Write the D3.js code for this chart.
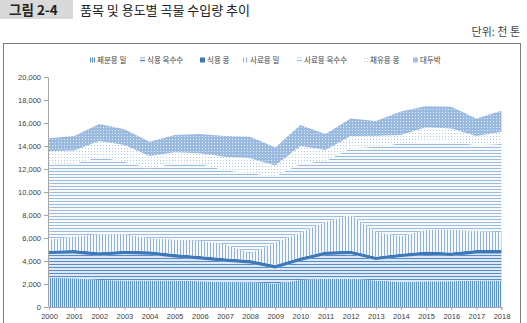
<!DOCTYPE html>
<html>
<head>
<meta charset="utf-8">
<script src="https://cdn.jsdelivr.net/npm/d3@7"></script>
<style>
  body { margin: 0; background: #fff; }
  svg { display: block; font-family: "Noto Sans CJK KR", "Noto Sans", sans-serif; }
</style>
</head>
<body>
<svg></svg>
<script>
// Data (thousand tons)
var years = ["2000","2001","2002","2003","2004","2005","2006","2007","2008","2009",
             "2010","2011","2012","2013","2014","2015","2016","2017","2018"];
var seriesNames = ["제분용 밀", "식용 옥수수", "식용 콩", "사료용 밀", "사료용 옥수수", "채유용 콩", "대두박"];
var millingWheat = [2550,2500,2350,2300,2300,2300,2250,2200,2150,2050,2350,2450,2450,2300,2200,2250,2250,2300,2300];
var foodCorn     = [2050,2160,2110,2300,2250,2010,1890,1740,1640,1300,1650,2070,2150,1780,2140,2270,2180,2360,2360];
var foodSoy      = [300,300,300,300,300,300,300,300,300,300,300,300,300,300,300,300,300,300,300];
var feedWheat    = [980,1160,1560,1420,1120,1270,1330,1210,580,1950,2200,2600,3100,2170,1510,1880,2020,1640,1540];
var feedCorn     = [6520,6330,6750,6320,6090,6620,6680,6450,6950,5770,5950,5280,5800,7390,8080,7680,7570,7490,7670];
var crushSoy     = [1160,1150,1360,1450,1070,950,910,1170,1310,930,1550,950,1070,960,730,1240,1210,780,1080];
var soyMeal      = [1110,1270,1480,1360,1250,1510,1680,1800,1880,1580,1830,1390,1530,1270,2030,1860,1890,1530,1820];
var yTicks = [0,2000,4000,6000,8000,10000,12000,14000,16000,18000,20000];

var seriesValues = [millingWheat, foodCorn, foodSoy, feedWheat, feedCorn, crushSoy, soyMeal];

// Table for d3.stack
var table = years.map(function(y, i) {
    var row = {year: y};
    seriesNames.forEach(function(n, k) { row[n] = seriesValues[k][i]; });
    return row;
});

var W = 527, H = 323;
var svg = d3.select("svg").attr("width", W).attr("height", H);

// Fill patterns for each series
var defs = svg.append("defs");
function stripes(id, dir, size, bg, fg) {
    var p = defs.append("pattern").attr("id", id)
        .attr("patternUnits", "userSpaceOnUse")
        .attr("width", dir === "v" ? size : 4)
        .attr("height", dir === "h" ? size : 4);
    p.append("rect").attr("width", 4).attr("height", 4).attr("fill", bg);
    if (dir === "v") p.append("rect").attr("width", 1).attr("height", 4).attr("fill", fg);
    else p.append("rect").attr("width", 4).attr("height", 1).attr("fill", fg);
}
function dots(id, bg, fg) {
    var p = defs.append("pattern").attr("id", id)
        .attr("patternUnits", "userSpaceOnUse")
        .attr("width", 3).attr("height", 3);
    p.append("rect").attr("width", 3).attr("height", 3).attr("fill", bg);
    p.append("rect").attr("x", 1).attr("y", 1).attr("width", 1).attr("height", 1).attr("fill", fg);
}
stripes("p0", "v", 2, "#dfeaf6", "#5f93cc");
stripes("p1", "h", 3, "#dce8f5", "#5a8dc7");
stripes("p3", "v", 3, "#f7fafd", "#8fb2da");
stripes("p4", "h", 3, "#f7fafd", "#9dbce0");
dots("p5", "#ffffff", "#b3c9e4");
dots("p6", "#9bbadf", "#e6eef8");
var fills = ["url(#p0)", "url(#p1)", "#3d78b8", "url(#p3)", "url(#p4)", "url(#p5)", "url(#p6)"];

// Title block
svg.append("rect").attr("x", 0).attr("y", 0).attr("width", 73).attr("height", 19).attr("fill", "#d9d9d9");
svg.append("text").attr("x", 9).attr("y", 15)
    .style("font-size", "13.5px").style("font-weight", "bold").attr("fill", "#222")
    .text("그림 2-4");
svg.append("text").attr("x", 80).attr("y", 15)
    .style("font-size", "13px").attr("fill", "#222")
    .text("품목 및 용도별 곡물 수입량 추이");
svg.append("text").attr("x", 520).attr("y", 36).attr("text-anchor", "end")
    .style("font-size", "11px").attr("fill", "#444")
    .text("단위: 천 톤");

// Chart frame
svg.append("rect").attr("x", 3.5).attr("y", 43.5).attr("width", 517).attr("height", 300)
    .attr("fill", "none").attr("stroke", "#7f7f7f").attr("stroke-width", 1);

// Scales
var x = d3.scalePoint().domain(years).range([49, 501.5]);
var y = d3.scaleLinear().domain([0, 20000]).range([307, 77]);

var stack = d3.stack().keys(seriesNames);
var layers = stack(table);

var area = d3.area()
    .x(function(d) { return x(d.data.year); })
    .y0(function(d) { return y(d[0]); })
    .y1(function(d) { return y(d[1]); });

svg.append("g").selectAll("path")
    .data(layers)
    .enter()
    .append("path")
    .attr("d", area)
    .attr("fill", function(d, i) { return fills[i]; });

// Axes
var yAxis = svg.append("g")
    .attr("transform", "translate(48,0)")
    .call(d3.axisLeft(y).tickValues(yTicks).tickSize(4).tickFormat(d3.format(",")));
var xAxis = svg.append("g")
    .attr("transform", "translate(0,307)")
    .call(d3.axisBottom(x).tickSize(3).tickPadding(4));
[xAxis, yAxis].forEach(function(a) {
    a.select(".domain").attr("stroke", "#a6a6a6");
    a.selectAll(".tick line").attr("stroke", "#a6a6a6");
    a.selectAll(".tick text").attr("fill", "#404040")
        .style("font-size", "7.5px").style("font-family", "'Liberation Sans', Arial, sans-serif");
});

// Legend
var legendX = [90, 140, 200, 243, 297, 363, 413];
var legend = svg.append("g").selectAll("g")
    .data(seriesNames)
    .enter()
    .append("g")
    .attr("transform", function(d, i) { return "translate(" + legendX[i] + ",60)"; });
legend.append("rect")
    .attr("x", 0).attr("y", -2.5).attr("width", 5).attr("height", 5)
    .attr("fill", function(d, i) { return fills[i]; });
legend.append("text")
    .attr("x", 7).attr("y", 2.7)
    .style("font-size", "7.5px").attr("fill", "#404040")
    .text(function(d) { return d; });
</script>
</body>
</html>
